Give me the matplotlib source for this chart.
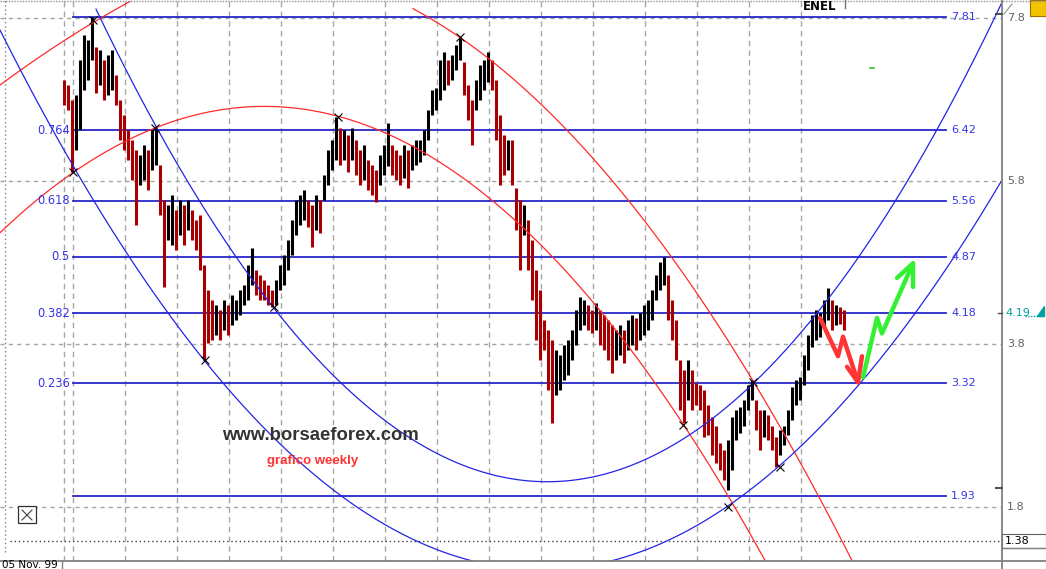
import numpy as np
import matplotlib
matplotlib.use("Agg")
import matplotlib.pyplot as plt
from matplotlib.patches import Rectangle, Polygon
from matplotlib.lines import Line2D

# ---------------- data ----------------
highs = [
    7.04, 6.98, 6.79, 6.85, 7.29, 7.59, 7.53, 7.81,
    7.45, 7.41, 7.28, 7.35, 7.41, 7.10, 6.79, 6.61, 6.43, 6.30, 6.18, 6.12, 6.24, 6.18, 6.43, 6.45, 6.00, 5.57, 5.50, 5.63, 5.44, 5.57, 5.50, 5.57, 5.44, 5.32,
    5.38, 4.77, 4.46, 4.34, 4.28, 4.22, 4.34, 4.28, 4.40, 4.34, 4.46, 4.52, 4.77, 4.98, 4.71, 4.65, 4.59, 4.52, 4.46, 4.59, 4.77, 4.89, 5.08, 5.32, 5.57, 5.63,
    5.69, 5.57, 5.50, 5.63, 5.57, 5.87, 6.18, 6.30, 6.59, 6.45, 6.43, 6.37, 6.45, 6.30, 6.18, 6.24, 6.06, 6.00, 5.94, 6.12, 6.24, 6.51, 6.24, 6.18, 6.12, 6.24, 6.18, 6.24, 6.30, 6.30,
    6.43, 6.67, 6.92, 6.94, 7.28, 7.38, 7.28, 7.35, 7.47, 7.57, 7.26, 6.98, 6.79, 7.04, 7.22, 7.28, 7.38, 7.28, 7.04, 6.61, 6.37, 6.30, 6.30, 5.72, 5.57, 5.50, 5.32, 5.08, 4.71, 4.46,
    4.09, 3.97, 3.85, 3.73, 3.67, 3.79, 3.85, 3.97, 4.22, 4.38, 4.34, 4.28, 4.22, 4.30, 4.22, 4.15, 4.09, 4.03, 3.97, 4.03, 3.97, 4.09, 4.15, 4.12, 4.18, 4.28, 4.34, 4.46, 4.65, 4.81,
    4.87, 4.65, 4.34, 4.09, 3.60, 3.48, 3.60, 3.48, 3.32, 3.30, 3.24, 3.05, 2.90, 2.80, 2.59, 2.50, 2.62, 2.90, 2.99, 3.03, 3.11, 3.30, 3.36, 3.11, 2.99, 2.99, 2.93, 2.80, 2.66, 2.74,
    2.80, 2.99, 3.27, 3.36, 3.40, 3.67, 3.91, 4.15, 4.22, 4.18, 4.34, 4.49, 4.34, 4.28, 4.25, 4.22,
]
lows = [
    6.73, 6.67, 5.91, 6.18, 6.43, 6.92, 7.04, 7.29,
    6.88, 6.98, 6.79, 6.85, 6.92, 6.73, 6.30, 6.18, 6.06, 5.81, 5.26, 5.75, 5.81, 5.69, 5.94, 6.00, 5.38, 4.50, 5.08, 5.01, 4.95, 5.14, 5.01, 5.20, 5.08, 4.95,
    4.71, 3.60, 3.81, 3.85, 3.91, 3.85, 3.97, 3.91, 4.03, 4.09, 4.16, 4.28, 4.34, 4.52, 4.40, 4.34, 4.34, 4.28, 4.25, 4.28, 4.46, 4.52, 4.71, 4.89, 5.14, 5.26,
    5.32, 5.23, 4.99, 5.20, 5.16, 5.57, 5.75, 5.94, 6.06, 6.00, 6.06, 5.91, 6.06, 5.87, 5.75, 5.81, 5.69, 5.63, 5.54, 5.75, 5.87, 5.99, 5.87, 5.81, 5.75, 5.84, 5.72, 5.94, 6.00, 6.03,
    6.12, 6.30, 6.61, 6.67, 6.79, 6.92, 6.98, 7.04, 7.16, 7.28, 6.85, 6.55, 6.24, 6.67, 6.79, 6.92, 7.01, 6.92, 6.30, 5.75, 5.87, 5.94, 5.75, 5.20, 4.71, 5.14, 4.71, 4.34, 3.85, 3.60,
    3.73, 3.24, 2.83, 3.17, 3.24, 3.36, 3.42, 3.60, 3.79, 3.97, 4.03, 3.97, 3.93, 3.97, 3.79, 3.73, 3.60, 3.44, 3.60, 3.67, 3.57, 3.73, 3.79, 3.73, 3.85, 3.91, 3.97, 4.09, 4.34, 4.46,
    4.52, 4.09, 3.85, 3.60, 2.99, 2.83, 3.11, 2.99, 3.05, 2.99, 2.66, 2.68, 2.44, 2.34, 2.25, 2.13, 2.01, 2.25, 2.62, 2.71, 2.80, 2.99, 3.11, 2.74, 2.50, 2.66, 2.62, 2.50, 2.29, 2.44,
    2.56, 2.68, 2.87, 3.05, 3.11, 3.30, 3.48, 3.76, 3.85, 3.89, 4.01, 4.09, 3.97, 4.03, 4.05, 3.97,
]

fib_levels = [7.81, 6.42, 5.56, 4.87, 4.18, 3.32, 1.93]
fib_ratio_labels = ["", "0.764", "0.618", "0.5", "0.382", "0.236", ""]
fib_start_week = 2.25

axis_ticks = [7.8, 5.8, 3.8, 1.8]
last_price = 4.19
min_price_line = 1.38

quarter_weeks = [0, 2.25, 15.25, 28.25, 41.25, 54.25, 67.25, 80.25, 93.25,
                 106.25, 119.25, 132.25, 145.25, 158.25, 171.25, 184.25]

# arc anchor points (week index, price)
arc_r1_w = [-16, -6, 7.25, 15.75]
arc_r1_p = [6.98, 7.32, 7.75, 7.98]
arc_r2_w = [-16, 2.25, 22.75, 68.5, 107, 154.75, 175.25]
arc_r2_p = [5.16, 5.91, 6.45, 6.59, 5.57, 2.81, 1.15]
arc_r3_w = [87.25, 99, 119.75, 146.5, 172.25, 197]
arc_r3_p = [7.91, 7.57, 6.71, 5.24, 3.33, 1.15]
arc_b1_w = [-16, 2.25, 35.25, 101.5, 137.25, 165.75, 179, 198.25, 234]
arc_b1_p = [7.71, 5.91, 3.60, 1.15, 1.15, 1.80, 2.29, 3.32, 5.75]
arc_b2_w = [8.25, 22.75, 52.75, 93.5, 120.25, 172.25, 189, 234]
arc_b2_p = [7.90, 6.45, 4.25, 2.46, 2.11, 3.33, 4.18, 7.96]

pivot_w = [2.25, 7.25, 22.75, 35.25, 52.5, 68.5, 99, 154.75, 166, 172.25, 179]
pivot_p = [5.91, 7.78, 6.45, 3.60, 4.25, 6.59, 7.57, 2.81, 1.80, 3.33, 2.29]

red_path_w = [189, 193.5, 194.75, 198.5]
red_path_p = [4.12, 3.65, 3.89, 3.33]
red_head_w = [195.75, 198.5, 199.5]
red_head_p = [3.52, 3.33, 3.65]
green_path_w = [199.75, 203.25, 204.5, 212.25]
green_path_p = [3.39, 4.12, 3.93, 4.79]
green_head_w = [208.25, 212.25, 212.25]
green_head_p = [4.61, 4.79, 4.50]

# ---------------- figure ----------------
W, H = 1046, 569
PR, PB = 1002, 561
fig = plt.figure(figsize=(W / 100, H / 100), dpi=100)
fig.patch.set_facecolor("white")
ax = fig.add_axes([0, (H - PB) / H, PR / W, PB / H])
XL = (-16, 234.5)
YL = (8.021 - PB / 81.5, 8.021)
ax.set_xlim(*XL)
ax.set_ylim(*YL)
ax.axis("off")

def dx(px):
    return XL[0] + px * (XL[1] - XL[0]) / PR

def dy(py):
    return YL[1] - py * (YL[1] - YL[0]) / PB

def fx(px):
    return px / W

def fy(py):
    return 1 - py / H

# grid
for w in quarter_weeks:
    ax.axvline(w, color="#a8a8a8", lw=1.0, ls=(0, (4, 3)), zorder=1)
for t in axis_ticks:
    ax.axhline(t, color="#a0a8a0", lw=1.0, ls=(0, (3, 3)), zorder=1)
ax.plot([dx(10), XL[1]], [min_price_line, min_price_line], color="#404040",
        lw=1.0, ls=(0, (1, 2)), zorder=1)
ax.plot([dx(5), dx(5)], [dy(552), YL[1]], color="#808080", lw=1.0,
        ls=(0, (1, 2)), zorder=1)

# fibonacci levels
fib_end = dx(946)
for lv, lab in zip(fib_levels, fib_ratio_labels):
    ax.plot([fib_start_week, fib_end], [lv, lv], color="#2626c8", lw=1.3, zorder=1.5)
    ax.text(dx(951), lv, f"{lv:.2f}", color="#3535e8", fontsize=8,
            ha="left", va="center", zorder=5)
    if lab:
        ax.text(dx(70), lv, lab, color="#3535e8", fontsize=8.3,
                ha="right", va="center", zorder=5)

# price bars
weeks = np.arange(len(highs))
hi = np.array(highs)
lo = np.array(lows)
mid = (hi + lo) / 2
cols = ["#a80000"] + ["#000000" if mid[i] >= mid[i - 1] else "#a80000"
                      for i in range(1, len(mid))]
ax.vlines(weeks, lo, hi, colors=cols, lw=2.2, zorder=2)

# arcs
def arc(ws, ps, w0, w1, color):
    c = np.polyfit(ws, ps, 2)
    xs = np.linspace(w0, w1, 800)
    ax.plot(xs, np.polyval(c, xs), color=color, lw=0.9, zorder=3)

arc(arc_r1_w, arc_r1_p, XL[0], 16.5, "#ff2a2a")
arc(arc_r2_w, arc_r2_p, XL[0], 180, "#ff2a2a")
arc(arc_r3_w, arc_r3_p, 87.25, 200, "#ff2a2a")
arc(arc_b1_w, arc_b1_p, XL[0], XL[1], "#2424e6")
arc(arc_b2_w, arc_b2_p, 8.0, XL[1], "#2424e6")

ax.plot(pivot_w, pivot_p, ls="none", marker="x", ms=6, mew=0.8,
        color="black", zorder=4)

# arrows
for pw, pp, c in [(red_path_w, red_path_p, "#ff3535"), (red_head_w, red_head_p, "#ff3535"),
                  (green_path_w, green_path_p, "#33f033"), (green_head_w, green_head_p, "#33f033")]:
    ax.plot(pw, pp, color=c, lw=3.2, zorder=6,
            solid_capstyle="round", solid_joinstyle="round")
ax.plot([dx(870), dx(874)], [dy(68), dy(68)], color="#33c033", lw=1.2, zorder=6)

# watermark texts
ax.text(dx(320), dy(435), "www.borsaeforex.com", family="Liberation Sans",
        weight="bold", fontsize=13.3, color="#333333", ha="center", va="center", zorder=7)
ax.text(dx(313), dy(461), "grafico weekly", family="Liberation Sans",
        weight="bold", fontsize=9.5, color="#ff3333", ha="center", va="center", zorder=7)

# ---------------- frame / right panel ----------------
def fline(x0, y0, x1, y1, **kw):
    fig.add_artist(Line2D([fx(x0), fx(x1)], [fy(y0), fy(y1)], **kw))

fline(0, 0.5, W, 0.5, color="#909090", lw=1.0, ls=(0, (1, 1)))
fline(PR, 0, PR, H, color="#808080", lw=1.3)
fline(0, PB, W, PB, color="#808080", lw=1.3)
fline(PR, 548, W, 548, color="#808080", lw=1.0)
fline(62, PB, 62, H, color="#808080", lw=1.0)
fline(845, 0, 845, 8, color="#707070", lw=1.0)

for t in axis_ticks:
    ypx = 18 + (7.8 - t) * 81.5
    fig.text(fx(1007), fy(ypx), f"{t:.1f}", fontsize=8, color="#606060",
             ha="left", va="center")
fline(996, 14, PR, 14, color="#505050", lw=1.5)
fline(996, 488, PR, 488, color="#505050", lw=1.5)
fline(998, 313, PR, 313, color="#505050", lw=1.0)

fig.text(fx(1005), fy(313), f"{last_price:.2f}", fontsize=8, color="#00a0a0",
         ha="left", va="center")
fline(1025, 316, 1043, 316, color="#00a0a0", lw=1.0, ls=(0, (1, 1)))
fig.add_artist(Polygon([[fx(1037), fy(316)], [fx(1044), fy(316)], [fx(1044), fy(306)]],
                       closed=True, color="#00a0a0", transform=fig.transFigure))

fig.add_artist(Rectangle((fx(1002), fy(548)), (W - 1002) / W, 14 / H,
                         transform=fig.transFigure, facecolor="white",
                         edgecolor="#606060", lw=0.8))
fig.text(fx(1005), fy(541), f"{min_price_line:.2f}", fontsize=8, color="black",
         ha="left", va="center")

fig.add_artist(Rectangle((fx(1030), fy(16)), 16 / W, 16 / H,
                         transform=fig.transFigure, facecolor="#f2c400",
                         edgecolor="#a07000", lw=0.8))
fline(1004, 14, 1012, 4, color="#909090", lw=0.8)

fig.text(fx(803), fy(7), "ENEL", fontsize=8.5, weight="bold", color="black",
         ha="left", va="center")
fig.text(fx(2), fy(565), "05 Nov. 99", fontsize=7.5, color="black",
         ha="left", va="center")

# zoom icon
fig.add_artist(Rectangle((fx(18), fy(523)), 18 / W, 17 / H,
                         transform=fig.transFigure, facecolor="white",
                         edgecolor="#303030", lw=0.9))
fline(22, 510, 32, 520, color="#404040", lw=0.8)
fline(22, 520, 32, 510, color="#404040", lw=0.8)

fig.savefig("out.png", dpi=100, facecolor="white")
